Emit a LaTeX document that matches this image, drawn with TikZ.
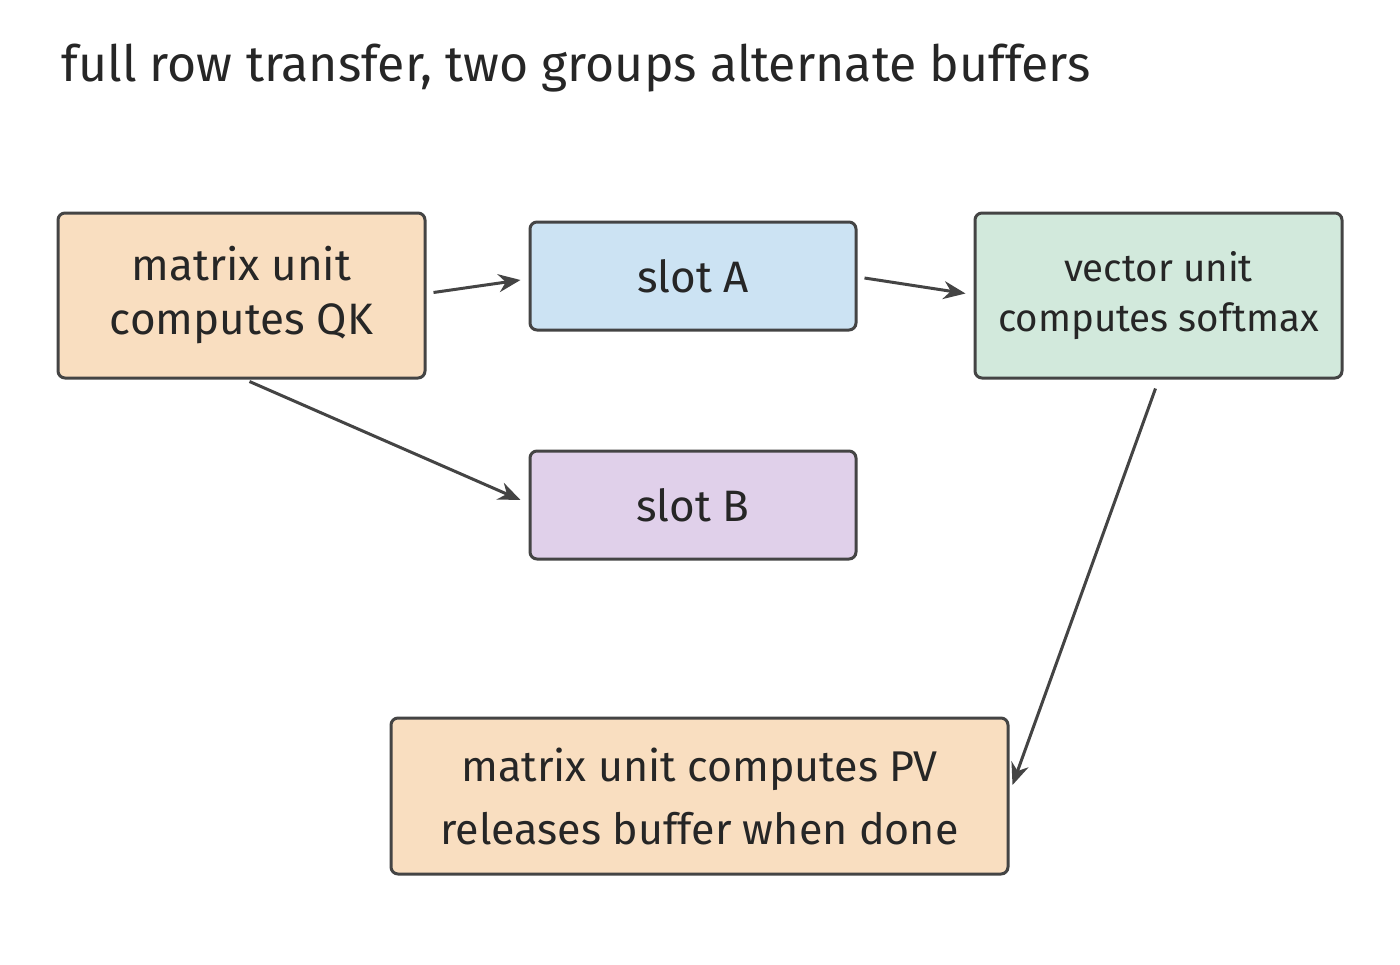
\documentclass[tikz,border=0pt]{standalone}
\usepackage{fontspec}
\setmainfont{Fira Sans}
\usetikzlibrary{arrows.meta,calc}
\definecolor{peach}{HTML}{F9DEC0}
\definecolor{sky}{HTML}{CCE3F3}
\definecolor{mint}{HTML}{D2E9DC}
\definecolor{lilac}{HTML}{E0D0EA}
\definecolor{edge}{HTML}{444444}
\begin{document}
\begin{tikzpicture}[x=1pt,y=-1pt,
  box/.style={draw=edge,line width=3pt,rounded corners=7pt,inner sep=0pt,align=center,text=black!85},
  arr/.style={draw=edge,line width=3pt,-{Stealth[length=22pt,width=18pt]}}]
\useasboundingbox[fill=white] (0,0) rectangle (1400,964);
\node[anchor=west,font=\fontsize{50}{58}\selectfont,text=black!85] (title) at (58,68) {full row transfer, two groups alternate buffers};
\node[box,fill=peach,minimum width=367pt,minimum height=165pt,font=\fontsize{44}{54}\selectfont] (qk) at (241.5,295.5) {matrix unit\\computes QK};
\node[box,fill=sky,minimum width=326pt,minimum height=108pt,font=\fontsize{44}{50}\selectfont] (sa) at (693,276) {slot A};
\node[box,fill=mint,minimum width=367pt,minimum height=165pt,font=\fontsize{38.5}{50}\selectfont] (vu) at (1158.5,295.5) {vector unit\\computes softmax};
\node[box,fill=lilac,minimum width=326pt,minimum height=108pt,font=\fontsize{44}{50}\selectfont] (sb) at (693,505) {slot B};
\node[box,fill=peach,minimum width=617pt,minimum height=156pt,font=\fontsize{43}{63}\selectfont] (pv) at (699.5,796) {matrix unit computes PV\\releases buffer when done};
\draw[arr] ($(qk.east)+(7,-3)$) -- ($(sa.west)+(-8,4)$);
\draw[arr] ($(sa.east)+(7,2)$) -- ($(vu.west)+(-8,-2)$);
\draw[arr] ($(qk.south)+(8,2)$) -- ($(sb.west)+(-8,-5)$);
\draw[arr] ($(vu.south)+(-3,9)$) -- ($(pv.east)+(3,-11)$);
\end{tikzpicture}
\end{document}
